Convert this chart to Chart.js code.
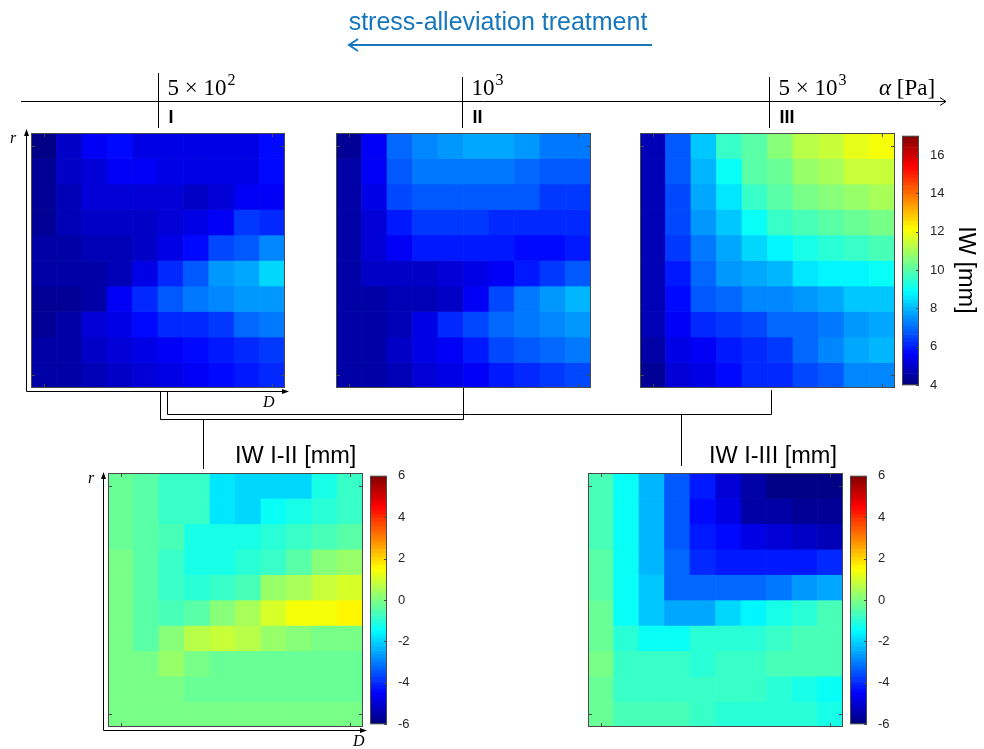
<!DOCTYPE html>
<html>
<head>
<meta charset="UTF-8">
<title>IW maps</title>
<style>
  body { margin: 0; background: #fff; }
  #page { position: relative; width: 984px; height: 749px; overflow: hidden; }
  #page canvas { position: absolute; }
</style>
</head>
<body>
<div id="page">
  <canvas id="frame" width="984" height="749" style="left:0;top:0"></canvas>
  <canvas id="mapI" width="254" height="255" style="left:31px;top:133px"></canvas>
  <canvas id="mapII" width="255" height="255" style="left:336px;top:133px"></canvas>
  <canvas id="mapIII" width="255" height="255" style="left:640px;top:133px"></canvas>
  <canvas id="barIW" width="43" height="271" style="left:902px;top:125px"></canvas>
  <canvas id="mapDiffII" width="255" height="254" style="left:108px;top:473px"></canvas>
  <canvas id="barDiffII" width="43" height="270" style="left:370px;top:465px"></canvas>
  <canvas id="mapDiffIII" width="255" height="254" style="left:588px;top:473px"></canvas>
  <canvas id="barDiffIII" width="43" height="270" style="left:850px;top:465px"></canvas>
</div>

<script src="https://cdn.jsdelivr.net/npm/chart.js@4.4.1/dist/chart.umd.min.js"></script>
<script>
// D along columns (left to right), r along rows (top row = largest r)
const dLabels = ['1', '2', '3', '4', '5', '6', '7', '8', '9', '10'];

// IW [mm], stage I (alpha = 5e2 Pa)
const iwI = [
  [4.1, 4.9, 5.5, 5.8, 5.4, 5.4, 5.4, 5.4, 5.4, 5.8],
  [4.3, 4.9, 5.2, 5.6, 5.5, 5.4, 5.3, 5.3, 5.4, 5.7],
  [4.3, 4.8, 5.1, 5.1, 5.1, 5.1, 5.0, 5.2, 5.5, 5.6],
  [4.3, 4.8, 5.0, 5.0, 4.9, 5.2, 5.3, 5.6, 6.3, 6.2],
  [4.6, 4.6, 4.8, 4.8, 4.9, 5.3, 5.8, 6.6, 6.8, 7.3],
  [4.6, 4.6, 4.5, 4.8, 5.3, 6.2, 6.8, 7.6, 7.8, 8.3],
  [4.4, 4.3, 4.6, 5.6, 6.1, 6.7, 7.1, 7.3, 7.5, 7.6],
  [4.4, 4.6, 5.2, 5.4, 5.8, 6.1, 6.2, 6.3, 6.9, 7.1],
  [4.5, 4.6, 5.0, 5.1, 5.3, 5.5, 5.7, 5.9, 6.2, 6.4],
  [4.5, 4.6, 4.8, 5.0, 5.1, 5.3, 5.6, 5.7, 6.0, 6.2]
];

// IW [mm], stage II (alpha = 1e3 Pa)
const iwII = [
  [4.3, 5.6, 6.9, 7.4, 7.6, 7.8, 7.8, 7.5, 7.1, 7.2],
  [4.5, 5.6, 6.7, 7.2, 7.2, 7.2, 7.2, 7.0, 6.7, 6.7],
  [4.5, 5.4, 6.5, 6.7, 6.8, 6.8, 6.8, 6.7, 6.4, 6.4],
  [4.5, 5.2, 5.9, 6.4, 6.4, 6.4, 6.1, 6.1, 6.1, 6.1],
  [4.5, 5.1, 5.6, 5.9, 5.9, 5.9, 5.9, 5.8, 5.7, 6.0],
  [4.5, 4.9, 4.9, 5.0, 5.1, 5.4, 5.5, 6.0, 6.3, 6.8],
  [4.5, 4.6, 4.7, 4.8, 5.0, 5.6, 6.5, 7.1, 7.5, 8.0],
  [4.5, 4.5, 4.8, 5.3, 6.2, 6.5, 6.9, 7.1, 7.3, 7.6],
  [4.5, 4.6, 4.9, 5.3, 5.6, 6.0, 6.5, 6.7, 6.9, 7.1],
  [4.5, 4.6, 4.8, 5.1, 5.4, 5.6, 5.9, 6.1, 6.3, 6.6]
];

// IW [mm], stage III (alpha = 5e3 Pa)
const iwIII = [
  [4.8, 6.8, 8.1, 9.5, 10.0, 10.5, 11.2, 11.5, 11.8, 12.1],
  [4.8, 6.8, 7.9, 8.9, 9.9, 10.2, 10.8, 11.1, 11.4, 11.4],
  [4.8, 6.6, 7.7, 8.6, 9.5, 9.9, 10.4, 10.7, 10.9, 11.0],
  [4.8, 6.6, 7.5, 8.2, 8.9, 9.5, 9.8, 9.9, 10.1, 10.3],
  [4.8, 6.4, 7.2, 7.8, 8.4, 8.7, 9.2, 9.4, 9.5, 9.7],
  [4.8, 6.0, 7.0, 7.5, 7.7, 8.0, 8.6, 8.8, 8.8, 8.9],
  [4.8, 5.8, 6.7, 7.0, 7.3, 7.4, 7.6, 7.8, 8.2, 8.2],
  [4.7, 5.6, 6.1, 6.4, 6.5, 7.0, 7.0, 7.1, 7.5, 7.7],
  [4.6, 5.3, 5.5, 6.0, 6.1, 6.3, 7.0, 7.3, 7.7, 7.9],
  [4.4, 5.2, 5.3, 5.7, 6.1, 6.2, 6.5, 6.8, 7.3, 7.3]
];

// IW difference I-II [mm]
const diffI_II = [
  [-0.2, -0.4, -0.8, -0.9, -1.8, -1.9, -1.9, -1.9, -1.2, -0.9],
  [-0.2, -0.4, -0.8, -0.9, -1.8, -2.0, -1.5, -1.3, -1.0, -0.8],
  [-0.2, -0.5, -0.7, -1.2, -1.3, -1.3, -1.0, -0.9, -0.6, -0.4],
  [-0.1, -0.5, -0.8, -1.2, -1.2, -1.0, -0.8, -0.4, 0.1, 0.2],
  [-0.1, -0.5, -0.8, -1.0, -0.8, -0.7, 0.2, 0.4, 0.9, 1.0],
  [-0.1, -0.5, -0.7, -0.5, 0.1, 0.5, 1.0, 1.4, 1.4, 1.5],
  [-0.1, -0.5, 0.0, 0.6, 0.9, 0.6, 0.3, 0.0, -0.1, -0.1],
  [-0.1, -0.1, 0.2, -0.1, -0.2, -0.2, -0.2, -0.2, -0.2, -0.2],
  [-0.1, -0.1, -0.1, -0.2, -0.2, -0.2, -0.2, -0.2, -0.2, -0.2],
  [-0.1, -0.1, -0.1, -0.1, -0.1, -0.1, -0.1, -0.1, -0.1, -0.1]
];

// IW difference I-III [mm]
const diffI_III = [
  [-0.6, -1.5, -2.4, -3.4, -4.2, -4.9, -5.5, -6.0, -6.0, -6.0],
  [-0.6, -1.5, -2.4, -3.4, -4.4, -4.8, -5.5, -5.5, -5.8, -5.8],
  [-0.6, -1.5, -2.3, -3.4, -4.2, -4.5, -4.8, -4.9, -5.1, -5.3],
  [-0.5, -1.5, -2.3, -3.3, -4.1, -4.2, -4.3, -4.3, -4.3, -4.1],
  [-0.5, -1.5, -2.1, -3.2, -3.3, -3.3, -3.3, -3.1, -2.7, -2.5],
  [-0.3, -1.5, -2.2, -2.5, -2.5, -1.9, -1.6, -1.3, -1.1, -0.6],
  [-0.3, -1.1, -1.4, -1.4, -1.1, -1.0, -1.0, -0.8, -0.6, -0.6],
  [-0.1, -0.8, -0.8, -0.8, -1.0, -0.8, -0.8, -0.6, -0.6, -0.6],
  [-0.2, -0.8, -0.8, -0.9, -0.9, -0.9, -0.9, -1.1, -1.3, -1.4],
  [-0.3, -0.7, -0.6, -0.6, -0.9, -1.0, -1.0, -1.0, -1.0, -1.2]
];

const iwRange = [4, 17];
const diffRange = [-6, 6];
const iwTicks = [4, 6, 8, 10, 12, 14, 16];
const diffTicks = [-6, -4, -2, 0, 2, 4, 6];

// pressure axis labels: mantissa part and exponent, plus stage names
const alphaLabels = [['5 \u00d7 10', '2'], ['10', '3'], ['5 \u00d7 10', '3']];
const stageNames = ['I', 'II', 'III'];

const colorSteps = 64;
const edgeColor = '#4a4a4a';
const sansFont = '"Liberation Sans", Arial, sans-serif';
const serifFont = '"Liberation Serif", "Times New Roman", serif';

function jet(t) {
  const c = (v) => Math.round(255 * Math.min(1, Math.max(0, v)));
  return `rgb(${c(1.5 - Math.abs(4 * t - 3))},${c(1.5 - Math.abs(4 * t - 2))},${c(1.5 - Math.abs(4 * t - 1))})`;
}

function levelColor(v, range) {
  let k = Math.floor((v - range[0]) / (range[1] - range[0]) * colorSteps);
  k = Math.min(colorSteps - 1, Math.max(0, k));
  return jet((k + 0.5) / colorSteps);
}

// box with small inward ticks at the first/last cell centres
const mapFrame = {
  id: 'mapFrame',
  afterDraw(chart) {
    const { ctx, chartArea: a, scales } = chart;
    ctx.save();
    ctx.strokeStyle = edgeColor;
    ctx.lineWidth = 1;
    ctx.strokeRect(a.left + 0.5, a.top + 0.5, a.right - a.left - 1, a.bottom - a.top - 1);
    ctx.beginPath();
    [0, dLabels.length - 1].forEach(i => {
      const x = Math.round(scales.x.getPixelForValue(i)) + 0.5;
      ctx.moveTo(x, a.top); ctx.lineTo(x, a.top + 4);
      ctx.moveTo(x, a.bottom); ctx.lineTo(x, a.bottom - 4);
    });
    [0.5, chart.data.datasets.length - 0.5].forEach(v => {
      const y = Math.round(scales.y.getPixelForValue(v)) + 0.5;
      ctx.moveTo(a.left, y); ctx.lineTo(a.left + 4, y);
      ctx.moveTo(a.right, y); ctx.lineTo(a.right - 4, y);
    });
    ctx.stroke();
    ctx.restore();
  }
};

function heatmap(id, rows, range) {
  const n = rows.length;
  const datasets = rows.map((row, i) => ({
    data: row.map(() => [n - i - 1, n - i]),
    backgroundColor: row.map(v => levelColor(v, range)),
    borderWidth: 0,
    grouped: false,
    barPercentage: 1,
    categoryPercentage: 1
  }));
  return new Chart(document.getElementById(id), {
    type: 'bar',
    data: { labels: dLabels, datasets },
    options: {
      responsive: false,
      animation: false,
      devicePixelRatio: 1,
      layout: { padding: 0 },
      scales: {
        x: { display: false },
        y: { display: false, min: 0, max: n }
      },
      plugins: { legend: { display: false }, tooltip: { enabled: false } }
    },
    plugins: [mapFrame]
  });
}

const barFrame = {
  id: 'barFrame',
  afterDraw(chart) {
    const { ctx, chartArea: a, scales } = chart;
    ctx.save();
    ctx.strokeStyle = edgeColor;
    ctx.lineWidth = 1;
    ctx.strokeRect(a.left + 0.5, a.top + 0.5, a.right - a.left - 1, a.bottom - a.top - 1);
    ctx.beginPath();
    scales.y.ticks.forEach(t => {
      const y = Math.round(scales.y.getPixelForValue(t.value)) + 0.5;
      ctx.moveTo(a.right, y); ctx.lineTo(a.right - 3, y);
    });
    ctx.stroke();
    ctx.restore();
  }
};

function colorbar(id, range, ticks) {
  const span = range[1] - range[0];
  const datasets = Array.from({ length: colorSteps }, (_, k) => ({
    data: [[range[0] + span * k / colorSteps, range[0] + span * (k + 1) / colorSteps]],
    backgroundColor: jet((k + 0.5) / colorSteps),
    borderWidth: 0,
    grouped: false,
    barPercentage: 1,
    categoryPercentage: 1
  }));
  return new Chart(document.getElementById(id), {
    type: 'bar',
    data: { labels: [''], datasets },
    options: {
      responsive: false,
      animation: false,
      devicePixelRatio: 1,
      layout: { padding: { top: 8, bottom: 8, left: 0, right: 0 } },
      scales: {
        x: { display: false },
        y: {
          position: 'right',
          min: range[0],
          max: range[1],
          afterBuildTicks: s => { s.ticks = ticks.map(value => ({ value })); },
          afterFit: s => { s.width = 26; },
          grid: { display: false },
          border: { display: false },
          ticks: { padding: 3, color: '#262626', font: { family: sansFont, size: 13 } }
        }
      },
      plugins: { legend: { display: false }, tooltip: { enabled: false } }
    },
    plugins: [barFrame]
  });
}

// axes, connectors and labels around the maps
const annotate = {
  id: 'annotate',
  afterDraw(chart) {
    const ctx = chart.ctx;
    const line = (pts) => {
      ctx.beginPath();
      pts.forEach(([x, y], i) => i ? ctx.lineTo(x, y) : ctx.moveTo(x, y));
      ctx.stroke();
    };
    const head = (x, y, dx, dy) => {
      const px = -dy, py = dx;
      ctx.beginPath();
      ctx.moveTo(x, y);
      ctx.lineTo(x - 7 * dx + 2.5 * px, y - 7 * dy + 2.5 * py);
      ctx.lineTo(x - 7 * dx - 2.5 * px, y - 7 * dy - 2.5 * py);
      ctx.closePath();
      ctx.fill();
    };
    ctx.save();
    ctx.strokeStyle = '#000';
    ctx.fillStyle = '#000';
    ctx.lineWidth = 1;

    // treatment direction
    ctx.save();
    ctx.strokeStyle = '#1677bd';
    ctx.fillStyle = '#1677bd';
    ctx.lineWidth = 2;
    line([[652, 45], [349, 45]]);
    line([[358, 39], [349, 45], [358, 51]]);
    ctx.font = `25px ${sansFont}`;
    ctx.textAlign = 'center';
    ctx.fillText('stress-alleviation treatment', 498, 30);
    ctx.restore();

    // pressure axis
    line([[21, 101.5], [946, 101.5]]);
    line([[940, 97.5], [946, 101.5], [940, 105.5]]);
    const tickX = [158.5, 462.5, 769.5];
    const tickTop = [73, 77, 77];
    tickX.forEach((x, i) => {
      line([[x, tickTop[i]], [x, 128]]);
      ctx.font = `23px ${serifFont}`;
      const [mant, exp] = alphaLabels[i];
      ctx.fillText(mant, x + 9, 95);
      const w = ctx.measureText(mant).width;
      ctx.font = `16px ${serifFont}`;
      ctx.fillText(exp, x + 9 + w + 1, 85);
      ctx.font = `bold 18px ${sansFont}`;
      ctx.fillText(stageNames[i], x + 10, 123);
    });
    ctx.font = `italic 23px ${serifFont}`;
    ctx.fillText('\u03b1', 879, 95);
    const aw = ctx.measureText('\u03b1').width;
    ctx.font = `23px ${serifFont}`;
    ctx.fillText(' [Pa]', 879 + aw, 95);

    // r / D axes
    ctx.font = `italic 16px ${serifFont}`;
    line([[26.5, 391.5], [26.5, 134]]);
    head(26.5, 129, 0, -1);
    line([[26.5, 391.5], [283, 391.5]]);
    head(289, 391.5, 1, 0);
    ctx.fillText('r', 10, 143);
    ctx.fillText('D', 263, 407);

    line([[103.5, 730.5], [103.5, 477]]);
    head(103.5, 472, 0, -1);
    line([[103.5, 730.5], [361, 730.5]]);
    head(367, 730.5, 1, 0);
    ctx.fillText('r', 88, 483);
    ctx.fillText('D', 353, 746);

    // connectors from stage maps to the difference maps
    line([[160.5, 391.5], [160.5, 419.5], [463.5, 419.5], [463.5, 388]]);
    line([[167.5, 391.5], [167.5, 414.5], [771.5, 414.5], [771.5, 390]]);
    line([[203.5, 419.5], [203.5, 469]]);
    line([[681.5, 414.5], [681.5, 466]]);

    // titles
    ctx.font = `23.5px ${sansFont}`;
    ctx.fillText('IW I-II [mm]', 235, 463);
    ctx.fillText('IW I-III [mm]', 709, 463);
    ctx.save();
    ctx.translate(959, 270);
    ctx.rotate(Math.PI / 2);
    ctx.textAlign = 'center';
    ctx.fillText('IW [mm]', 0, 0);
    ctx.restore();

    ctx.restore();
  }
};

new Chart(document.getElementById('frame'), {
  type: 'scatter',
  data: { datasets: [] },
  options: {
    responsive: false,
    animation: false,
    devicePixelRatio: 1,
    scales: { x: { display: false }, y: { display: false } },
    plugins: { legend: { display: false }, tooltip: { enabled: false } }
  },
  plugins: [annotate]
});

heatmap('mapI', iwI, iwRange);
heatmap('mapII', iwII, iwRange);
heatmap('mapIII', iwIII, iwRange);
colorbar('barIW', iwRange, iwTicks);
heatmap('mapDiffII', diffI_II, diffRange);
colorbar('barDiffII', diffRange, diffTicks);
heatmap('mapDiffIII', diffI_III, diffRange);
colorbar('barDiffIII', diffRange, diffTicks);
</script>
</body>
</html>
